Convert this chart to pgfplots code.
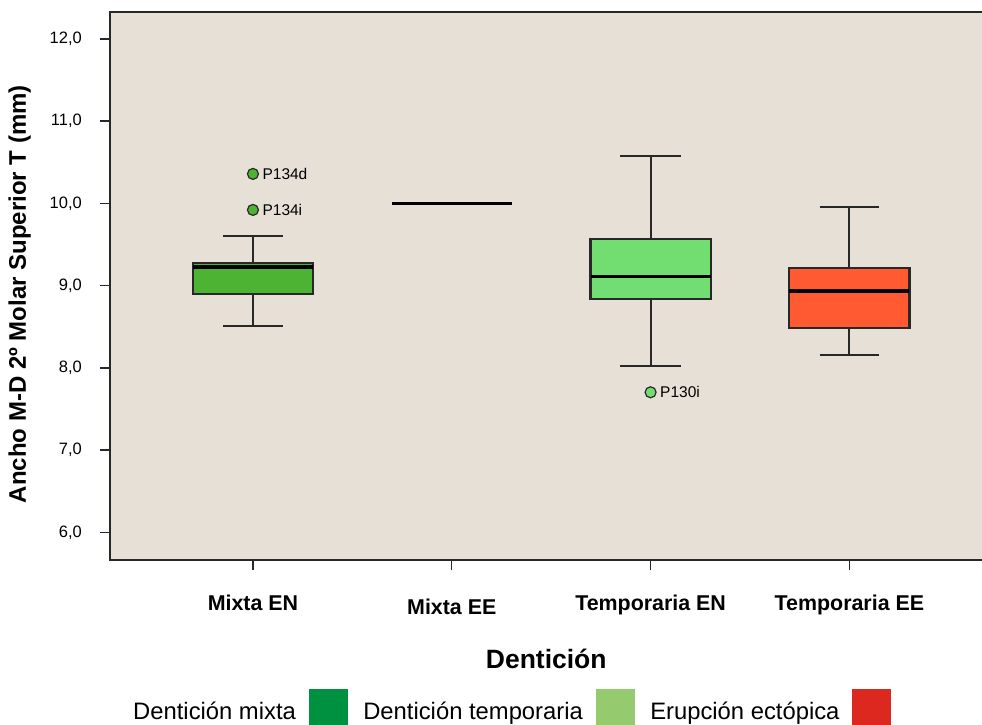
\documentclass[border=0pt]{standalone}
\usepackage{fontspec}
\setmainfont{Liberation Sans}
\usepackage{pgfplots}
\pgfplotsset{compat=1.18}
\definecolor{bg}{RGB}{230,224,214}
\definecolor{mixen}{RGB}{77,179,50}
\definecolor{tempen}{RGB}{114,222,114}
\definecolor{tempee}{RGB}{255,90,50}
\definecolor{legdg}{RGB}{0,145,64}
\definecolor{leglg}{RGB}{150,202,110}
\definecolor{legrd}{RGB}{220,40,30}
\definecolor{frame}{RGB}{40,40,40}
\begin{document}
\begin{tikzpicture}
\begin{axis}[
  at={(0,0)}, anchor=south west,
  scale only axis, width=876pt, height=548pt,
  xmin=-0.719, xmax=3.687, ymin=5.663, ymax=12.328,
  axis background/.style={fill=bg},
  axis line style={line width=1.8pt, draw=frame},
  tick align=outside, major tick length=10pt,
  xtick pos=bottom, ytick pos=left,
  tick style={line width=1.4pt, draw=frame},
  xtick={0,1,2,3},
  xticklabels={Mixta EN, \raisebox{-4pt}{Mixta EE}, Temporaria EN, Temporaria EE},
  xticklabel style={anchor=base, inner sep=0pt, yshift=-40pt, font=\bfseries\fontsize{21.4}{25}\selectfont},
  ytick={6,7,...,12},
  yticklabel style={anchor=east, inner sep=0pt, xshift=-18pt, font=\fontsize{16.5}{19}\selectfont,
     /pgf/number format/.cd, fixed, fixed zerofill, precision=1, use comma, assume math mode=true},
  ylabel={Ancho M-D 2º Molar Superior T (mm)},
  ylabel style={at={(axis description cs:-0.103,0.485)}, anchor=center, font=\bfseries\fontsize{24}{28}\selectfont},
  xlabel={Dentición},
  xlabel style={at={(axis description cs:0.498,-0.1807)}, anchor=center, font=\bfseries\fontsize{26.5}{30}\selectfont},
  legend style={at={(axis description cs:0.02626,-0.2692)}, anchor=west, draw=none, fill=none,
     inner sep=0pt, nodes={inner sep=0pt}, font=\fontsize{23.8}{28}\selectfont,
     /tikz/every odd column/.append style={column sep=13pt},
     /tikz/every even column/.append style={column sep=16pt}},
  legend columns=3, legend plot pos=right,
  boxline/.style={draw=frame, line width=2pt, forget plot},
  medline/.style={draw=black, line width=3.5pt, forget plot},
]
% ---------- Mixta EN: lw 8.510, q1 8.900, med 9.224, q3 9.273, uw 9.605
\addplot[boxline] coordinates {(0,8.510) (0,8.900)};
\addplot[boxline] coordinates {(0,9.273) (0,9.605)};
\addplot[boxline] coordinates {(-0.150,8.510) (0.150,8.510)};
\addplot[boxline] coordinates {(-0.150,9.605) (0.150,9.605)};
\addplot[boxline, fill=mixen, line width=2.2pt] coordinates {(-0.302,8.900) (0.302,8.900) (0.302,9.273) (-0.302,9.273)} --cycle;
\addplot[medline] coordinates {(-0.302,9.224) (0.302,9.224)};
% ---------- Mixta EE: single value 10.0
\addplot[medline] coordinates {(0.697,10.0) (1.303,10.0)};
% ---------- Temporaria EN: lw 8.019, q1 8.835, med 9.109, q3 9.564, uw 10.578
\addplot[boxline] coordinates {(2,8.019) (2,8.835)};
\addplot[boxline] coordinates {(2,9.564) (2,10.578)};
\addplot[boxline] coordinates {(1.847,8.019) (2.153,8.019)};
\addplot[boxline] coordinates {(1.847,10.578) (2.153,10.578)};
\addplot[boxline, fill=tempen, line width=2.2pt] coordinates {(1.698,8.835) (2.302,8.835) (2.302,9.564) (1.698,9.564)} --cycle;
\addplot[medline] coordinates {(1.698,9.109) (2.302,9.109)};
% ---------- Temporaria EE: lw 8.153, q1 8.482, med 8.932, q3 9.212, uw 9.954
\addplot[boxline] coordinates {(3,8.153) (3,8.482)};
\addplot[boxline] coordinates {(3,9.212) (3,9.954)};
\addplot[boxline] coordinates {(2.850,8.153) (3.150,8.153)};
\addplot[boxline] coordinates {(2.850,9.954) (3.150,9.954)};
\addplot[boxline, fill=tempee, line width=2.2pt] coordinates {(2.698,8.482) (3.302,8.482) (3.302,9.212) (2.698,9.212)} --cycle;
\addplot[medline] coordinates {(2.698,8.932) (3.302,8.932)};
% ---------- outliers
\addplot[only marks, mark=*, mark size=5.5pt, mark options={fill=mixen, draw=frame, line width=1.2pt},
  nodes near coords, point meta=explicit symbolic,
  nodes near coords style={anchor=west, xshift=9pt, inner sep=0pt, font=\fontsize{15.5}{18}\selectfont, text=black}, forget plot]
  table[meta=lab] {
x y lab
0 10.359 P134d
0 9.921 P134i
};
\addplot[only marks, mark=*, mark size=5.5pt, mark options={fill=tempen, draw=frame, line width=1.2pt},
  nodes near coords, point meta=explicit symbolic,
  nodes near coords style={anchor=west, xshift=9pt, inner sep=0pt, font=\fontsize{15.5}{18}\selectfont, text=black}, forget plot]
  table[meta=lab] {
x y lab
2 7.703 P130i
};
\addlegendimage{legend image code/.code={\fill[legdg] (0pt,-14pt) rectangle (38pt,22pt);}}
\addlegendentry{Dentición mixta}
\addlegendimage{legend image code/.code={\fill[leglg] (0pt,-14pt) rectangle (38pt,22pt);}}
\addlegendentry{Dentición temporaria}
\addlegendimage{legend image code/.code={\fill[legrd] (0pt,-14pt) rectangle (38pt,22pt);}}
\addlegendentry{Erupción ectópica}
\end{axis}
\pgfresetboundingbox
\path (-110pt,-164pt) rectangle (872pt,560pt);
\end{tikzpicture}
\end{document}
